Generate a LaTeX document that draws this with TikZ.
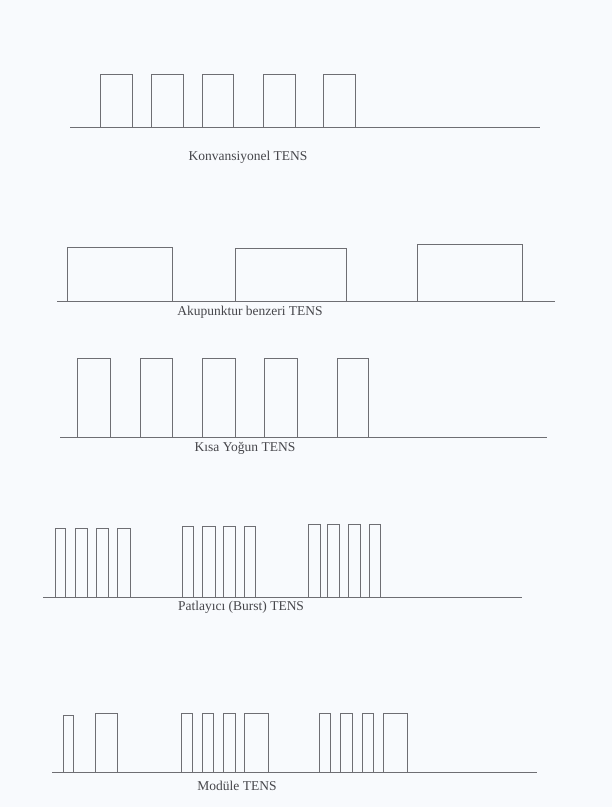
\documentclass[tikz,border=0pt]{standalone}
\usepackage{fontspec}
\setmainfont{Liberation Serif}
\definecolor{tnpaper}{RGB}{248,250,253}
\definecolor{tnline}{RGB}{110,110,115}
\definecolor{tntext}{RGB}{70,70,75}
\newcommand{\YA}{127}
\newcommand{\YB}{301}
\newcommand{\YC}{437}
\newcommand{\YD}{597}
\newcommand{\YE}{772}

\begin{document}
\begin{tikzpicture}[
    x=1pt, y=-1pt,
    axis/.style={draw=tnline, line width=0.6pt},
    wave/.style={draw=tnline, line width=0.55pt},
    tag/.style={font=\fontsize{13.5}{15}\selectfont, text=tntext, inner sep=1pt},
  ]

  \fill[tnpaper] (0,0) rectangle (612,807);
  \useasboundingbox (0,0) rectangle (612,807);

  %% ================= Konvansiyonel =================
  \draw[axis] (70,\YA) -- (540,\YA);
  \foreach \a/\b in {100/132, 151/183, 202/233, 263/295, 323/355} {
    \draw[wave] (\a,\YA) |- (\b,74) -- (\b,\YA);
  }
  \node[tag] (konv) at (248,157) {Konvansiyonel TENS};

  %% ================= Akupunktur benzeri =================
  \draw[axis] (57,\YB) -- (555,\YB);
  \draw[wave] (67,\YB) |- (172,247) -- (172,\YB);
  \draw[wave] (235,\YB) |- (346,248) -- (346,\YB);
  \draw[wave] (417,\YB) |- (522,244) -- (522,\YB);
  \node[tag] (akup) at (250,312) {Akupunktur benzeri TENS};

  %% ================= Kisa Yogun =================
  \draw[axis] (60,\YC) -- (547,\YC);
  \foreach \a/\b in {77/110, 140/172, 202/235, 264/297, 337/368} {
    \draw[wave] (\a,\YC) |- (\b,358) -- (\b,\YC);
  }
  \node[tag] (kisa) at (245,448) {Kısa Yoğun TENS};

  %% ================= Patlayici (Burst) =================
  \draw[axis] (43,\YD) -- (522,\YD);
  \foreach \a/\b/\t in {55/65/528, 75/87/528, 96/108/528, 117/130/528,
                        182/193/526, 202/215/526, 223/235/526, 244/255/526,
                        308/320/524, 327/339/524, 348/360/524, 369/380/524} {
    \draw[wave] (\a,\YD) |- (\b,\t) -- (\b,\YD);
  }
  \node[tag] (burst) at (241,607) {Patlayıcı (Burst) TENS};

  %% ================= Modüle =================
  \draw[axis] (52,\YE) -- (537,\YE);
  \foreach \a/\b/\t in {63/73/715, 95/117/713,
                        181/192/713, 202/213/713, 223/235/713, 244/268/713,
                        319/330/713, 340/352/713, 362/373/713, 383/407/713} {
    \draw[wave] (\a,\YE) |- (\b,\t) -- (\b,\YE);
  }
  \node[tag] (modul) at (237,786) {Modüle TENS};

\end{tikzpicture}
\end{document}
